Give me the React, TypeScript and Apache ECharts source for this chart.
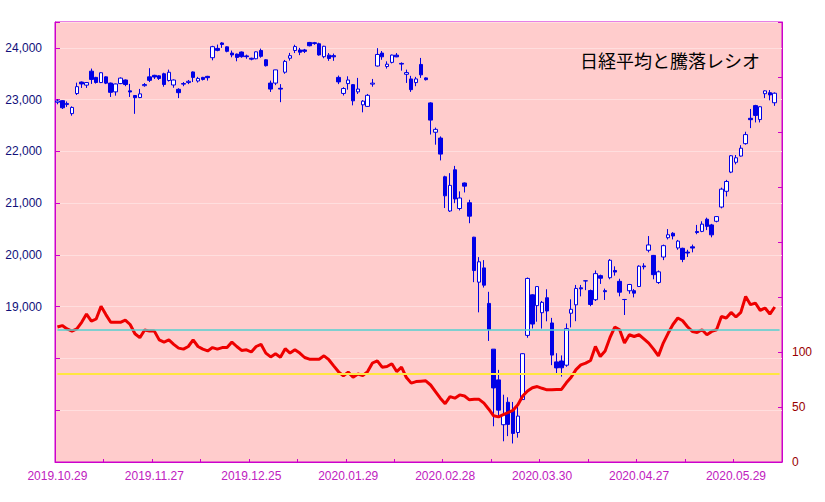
import React, { useEffect, useRef } from 'react';
import * as echarts from 'echarts';

const dates = [
  '2019.10.29', '2019.10.30', '2019.10.31',
  '2019.11.01', '2019.11.05', '2019.11.06', '2019.11.07', '2019.11.08', '2019.11.11', '2019.11.12', '2019.11.13', '2019.11.14', '2019.11.15',
  '2019.11.18', '2019.11.19', '2019.11.20', '2019.11.21', '2019.11.22', '2019.11.25', '2019.11.26', '2019.11.27', '2019.11.28', '2019.11.29',
  '2019.12.02', '2019.12.03', '2019.12.04', '2019.12.05', '2019.12.06', '2019.12.09', '2019.12.10', '2019.12.11', '2019.12.12', '2019.12.13',
  '2019.12.16', '2019.12.17', '2019.12.18', '2019.12.19', '2019.12.20', '2019.12.23', '2019.12.24', '2019.12.25', '2019.12.26', '2019.12.27', '2019.12.30',
  '2020.01.06', '2020.01.07', '2020.01.08', '2020.01.09', '2020.01.10', '2020.01.14', '2020.01.15', '2020.01.16', '2020.01.17',
  '2020.01.20', '2020.01.21', '2020.01.22', '2020.01.23', '2020.01.24', '2020.01.27', '2020.01.28', '2020.01.29', '2020.01.30', '2020.01.31',
  '2020.02.03', '2020.02.04', '2020.02.05', '2020.02.06', '2020.02.07', '2020.02.10', '2020.02.12', '2020.02.13', '2020.02.14',
  '2020.02.17', '2020.02.18', '2020.02.19', '2020.02.20', '2020.02.21', '2020.02.25', '2020.02.26', '2020.02.27', '2020.02.28',
  '2020.03.02', '2020.03.03', '2020.03.04', '2020.03.05', '2020.03.06', '2020.03.09', '2020.03.10', '2020.03.11', '2020.03.12', '2020.03.13',
  '2020.03.16', '2020.03.17', '2020.03.18', '2020.03.19', '2020.03.23', '2020.03.24', '2020.03.25', '2020.03.26', '2020.03.27', '2020.03.30', '2020.03.31',
  '2020.04.01', '2020.04.02', '2020.04.03', '2020.04.06', '2020.04.07', '2020.04.08', '2020.04.09', '2020.04.10', '2020.04.13', '2020.04.14',
  '2020.04.15', '2020.04.16', '2020.04.17', '2020.04.20', '2020.04.21', '2020.04.22', '2020.04.23', '2020.04.24', '2020.04.27', '2020.04.28', '2020.04.30',
  '2020.05.01', '2020.05.07', '2020.05.08', '2020.05.11', '2020.05.12', '2020.05.13', '2020.05.14', '2020.05.15', '2020.05.18', '2020.05.19',
  '2020.05.20', '2020.05.21', '2020.05.22', '2020.05.25', '2020.05.26', '2020.05.27', '2020.05.28', '2020.05.29',
  '2020.06.01', '2020.06.02', '2020.06.03', '2020.06.04', '2020.06.05', '2020.06.08', '2020.06.09', '2020.06.10', '2020.06.11',
];

const xLabels = ['2019.10.29', '2019.11.27', '2019.12.25', '2020.01.29', '2020.02.28', '2020.03.30', '2020.04.27', '2020.05.29'];
const leftLabels = [19000, 20000, 21000, 22000, 23000, 24000];
const rightLabels = [0, 50, 100];
const ratioLines = [120, 80];

const opens = [
  22950, 22980, 22905, 22730, 23118, 23340, 23280, 23550, 23430, 23330,
  23440, 23320, 23150, 23310, 23380, 23170, 23080, 23040, 23270, 23440,
  23470, 23460, 23500, 23370, 23283, 23200, 23310, 23330, 23535, 23360,
  23430, 23450, 23810, 23990, 24095, 24020, 23900, 23880, 23920, 23845,
  23800, 23790, 23950, 23770, 23320, 23320, 23220, 23530, 23800, 23950,
  23960, 23960, 24105, 24100, 24080, 23830, 23860, 23850, 23430, 23120,
  23310, 23290, 23150, 22900, 22870, 23300, 23650, 23900, 23640, 23720,
  23860, 23700, 23490, 23400, 23330, 23680, 23420, 22937, 22370, 22258,
  21510, 20849, 21645, 20897, 21390, 21009, 20343, 19474, 19750, 19064,
  18180, 17586, 16720, 17154, 16995, 16570, 17206, 18446, 19230, 19021,
  18884, 19173, 18686, 17934, 17951, 17870, 18874, 19036, 19365, 19500,
  19312, 19135, 19600, 19310, 19560, 19700, 19490, 19140, 19308, 19310,
  19390, 19787, 20090, 19991, 19468, 19960, 20333, 20419, 20135, 20128,
  20055, 20157, 20452, 20455, 20690, 20580, 20650, 20925, 21230, 21600,
  21790, 21910, 22150, 22640, 22885, 22615, 23115, 23135, 22940,
];
const closes = [
  22974, 22843, 22927, 22850, 23251, 23303, 23330, 23391, 23331, 23520,
  23319, 23141, 23303, 23416, 23292, 23148, 23038, 23112, 23292, 23373,
  23437, 23409, 23293, 23529, 23379, 23135, 23300, 23354, 23430, 23410,
  23391, 23424, 24023, 23952, 24066, 23934, 23864, 23816, 23830, 23830,
  23782, 23924, 23837, 23656, 23204, 23575, 23204, 23739, 23850, 24025,
  23916, 23933, 24041, 24083, 23864, 24031, 23795, 23827, 23343, 23215,
  23379, 22977, 23205, 22971, 23084, 23319, 23873, 23827, 23685, 23861,
  23827, 23687, 23523, 23193, 23400, 23479, 23386, 22605, 22426, 21948,
  21142, 21344, 21082, 21100, 21329, 20749, 19698, 19867, 19416, 18559,
  17431, 17002, 16910, 16726, 16552, 16887, 18092, 19546, 18665, 19389,
  19084, 18917, 18065, 17818, 17820, 18576, 18950, 19353, 19345, 19498,
  19043, 19639, 19550, 19290, 19897, 19669, 19280, 19138, 19429, 19262,
  19783, 19771, 20193, 19619, 19674, 20179, 20390, 20366, 20267, 19914,
  20037, 20133, 20433, 20595, 20552, 20388, 20741, 21271, 21419, 21916,
  21877, 22062, 22325, 22613, 22695, 22863, 23170, 23091, 23124,
];
const lows = [
  22911, 22820, 22860, 22690, 23090, 23226, 23226, 23304, 23310, 23320,
  23300, 23052, 23077, 23300, 23260, 23052, 22726, 23030, 23250, 23340,
  23400, 23380, 23250, 23350, 23230, 23030, 23260, 23300, 23340, 23330,
  23370, 23368, 23760, 23934, 24000, 23915, 23818, 23741, 23810, 23790,
  23760, 23780, 23810, 23640, 23149, 23280, 22951, 23500, 23754, 23900,
  23860, 23900, 24030, 24060, 23850, 23800, 23750, 23750, 23300, 23080,
  23193, 22890, 23110, 22755, 22860, 23250, 23640, 23770, 23600, 23700,
  23820, 23560, 23323, 23150, 23260, 23420, 23370, 22326, 22130, 21826,
  20906, 20830, 21000, 20860, 21207, 20613, 19474, 18891, 19370, 18339,
  16690, 16890, 16400, 16500, 16358, 16470, 17200, 18400, 18580, 18710,
  18578, 18718, 17871, 17707, 17650, 17840, 18600, 18720, 19200, 19320,
  19010, 19110, 19440, 19130, 19530, 19600, 19200, 18840, 19250, 19180,
  19380, 19720, 20050, 19530, 19440, 19900, 20300, 20300, 20100, 19860,
  19960, 20050, 20400, 20440, 20480, 20340, 20630, 20900, 21130, 21580,
  21750, 21900, 22130, 22450, 22560, 22560, 23030, 22987, 22880,
];
const highs = [
  23008, 22990, 22965, 22870, 23328, 23350, 23340, 23600, 23440, 23530,
  23450, 23330, 23310, 23430, 23390, 23304, 23090, 23207, 23320, 23608,
  23480, 23470, 23520, 23580, 23390, 23220, 23340, 23380, 23545, 23440,
  23440, 23460, 24040, 24064, 24110, 24030, 23948, 23890, 23930, 23870,
  23810, 23930, 23986, 23780, 23368, 23577, 23300, 23767, 23903, 24060,
  24000, 23980, 24115, 24115, 24100, 24040, 23900, 23890, 23465, 23240,
  23451, 23300, 23420, 22990, 23110, 23400, 23995, 23940, 23740, 23870,
  23900, 23720, 23580, 23460, 23440, 23806, 23430, 22950, 22460, 22290,
  21530, 21580, 21720, 21228, 21400, 21066, 20350, 19958, 19900, 19288,
  18180, 17780, 17300, 17250, 17160, 17125, 18100, 19564, 19240, 19389,
  19111, 19337, 18784, 18102, 18059, 18676, 19143, 19420, 19420, 19500,
  19330, 19700, 19620, 19350, 19920, 19780, 19540, 19150, 19440, 19340,
  19800, 19840, 20365, 20000, 19700, 20200, 20500, 20440, 20290, 20140,
  20100, 20200, 20580, 20650, 20720, 20600, 20750, 21300, 21450, 21930,
  21930, 22120, 22380, 22820, 22900, 22870, 23180, 23185, 23140,
];

const ratio = [
  122.7, 124, 121, 119, 121, 127, 134.5, 128, 130, 141.5,
  134, 127, 127, 127, 129, 125, 116.6, 113, 120, 119,
  119, 111, 109, 111, 107, 103.5, 102.6, 105, 111, 105,
  102.6, 101, 104, 102.6, 104, 104, 109, 105, 101.4, 102,
  100, 105, 107, 99, 95.5, 98.4, 95.3, 103, 99, 102,
  99, 95, 93.5, 93.5, 93.5, 96.5, 93, 87.4, 82, 78.3,
  81.7, 77.1, 80, 78.6, 82.2, 90, 92, 86.2, 86.8, 89.3,
  82.2, 86.2, 76.8, 71.7, 73.1, 73.5, 73.8, 70, 64, 58,
  53, 59.5, 58, 61, 60, 56.5, 57, 57, 53.5, 48,
  42, 41, 43, 45, 47, 52, 60, 64.5, 67.5, 68.6,
  67, 65.6, 65.6, 66, 66, 72, 77, 84, 88.3, 89.9,
  92.3, 105, 95.9, 101, 113, 122.7, 120.2, 108.1, 115.7, 114.1,
  115.7, 112, 108.1, 102.6, 96.5, 108.1, 117, 125, 130.9, 128.4,
  123, 118.7, 117.8, 120.2, 115.7, 118.7, 120.2, 132.3, 130.9, 136,
  131.8, 136, 150.5, 143, 144.5, 137.8, 140, 134.5, 140.9,
];

const MAGENTA = '#cc00cc';
const NARROW = "'Liberation Sans Narrow', 'Liberation Sans', sans-serif";

export default function App() {
  const ref = useRef<HTMLDivElement>(null);
  useEffect(() => {
    if (!ref.current) return;
    const chart = echarts.init(ref.current, undefined, { renderer: 'svg' });
    const candles = opens.map((o, i) => [o, closes[i], lows[i], highs[i]]);
    const first = dates[0];
    const last = dates[dates.length - 1];
    chart.setOption({
      animation: false,
      backgroundColor: '#ffffff',
      title: {
        text: '日経平均と騰落レシオ',
        left: 580,
        top: 51,
        padding: 0,
        textStyle: { fontFamily: "'Noto Sans CJK JP', sans-serif", fontSize: 18, fontWeight: 'normal', color: '#000000' },
      },
      grid: {
        left: 55,
        top: 22,
        width: 727,
        height: 440,
        show: true,
        backgroundColor: '#ffcccc',
        borderColor: MAGENTA,
        borderWidth: 1,
      },
      xAxis: {
        type: 'category',
        data: dates,
        boundaryGap: true,
        axisLine: { lineStyle: { color: MAGENTA, width: 1 } },
        axisTick: { show: true, inside: true, length: 3, interval: 9, lineStyle: { color: MAGENTA } },
        axisLabel: {
          interval: (_i: number, v: string) => xLabels.includes(v),
          color: '#c020c0',
          fontFamily: NARROW,
          fontSize: 12,
          margin: 8,
        },
        splitLine: { show: false },
      },
      yAxis: [
        {
          type: 'value',
          position: 'left',
          min: 16000,
          max: 24500,
          interval: 1000,
          axisLine: { show: true, lineStyle: { color: MAGENTA } },
          axisTick: { show: true, inside: true, length: 5, lineStyle: { color: MAGENTA } },
          axisLabel: {
            color: '#10107a',
            fontFamily: NARROW,
            fontSize: 12,
            margin: 13,
            formatter: (v: number) => (leftLabels.includes(v) ? v.toLocaleString('en-US') : ''),
          },
          splitLine: { show: true, lineStyle: { color: '#ffdede', width: 1 } },
        },
        {
          type: 'value',
          position: 'right',
          min: 0,
          max: 400,
          interval: 50,
          axisLine: { show: true, lineStyle: { color: MAGENTA } },
          axisTick: { show: true, inside: true, length: 4, lineStyle: { color: MAGENTA } },
          axisLabel: {
            color: '#990000',
            fontFamily: NARROW,
            fontSize: 12,
            margin: 10,
            formatter: (v: number) => (rightLabels.includes(v) ? String(v) : ''),
          },
          splitLine: { show: false },
        },
      ],
      series: [
        {
          type: 'candlestick',
          yAxisIndex: 0,
          data: candles,
          barWidth: 4,
          itemStyle: {
            color: '#ffffff',
            color0: '#0000e6',
            borderColor: '#0000e6',
            borderColor0: '#0000e6',
            borderColorDoji: '#0000e6',
            borderWidth: 1,
          },
          z: 2,
        },
        {
          type: 'line',
          yAxisIndex: 1,
          data: ratio,
          symbol: 'none',
          lineStyle: { color: '#ee0000', width: 3 },
          z: 4,
          markLine: {
            silent: true,
            symbol: 'none',
            label: { show: false },
            data: [
              [
                { coord: [first, ratioLines[0]], lineStyle: { color: '#55d0d0', width: 1.5, type: 'solid' } },
                { coord: [last, ratioLines[0]] },
              ],
              [
                { coord: [first, ratioLines[1]], lineStyle: { color: '#ffe640', width: 2, type: 'solid' } },
                { coord: [last, ratioLines[1]] },
              ],
            ],
          },
        },
      ],
    });
    return () => chart.dispose();
  }, []);
  return <div ref={ref} style={{ position: 'absolute', left: 0, top: 0, width: 825, height: 502 }} />;
}
